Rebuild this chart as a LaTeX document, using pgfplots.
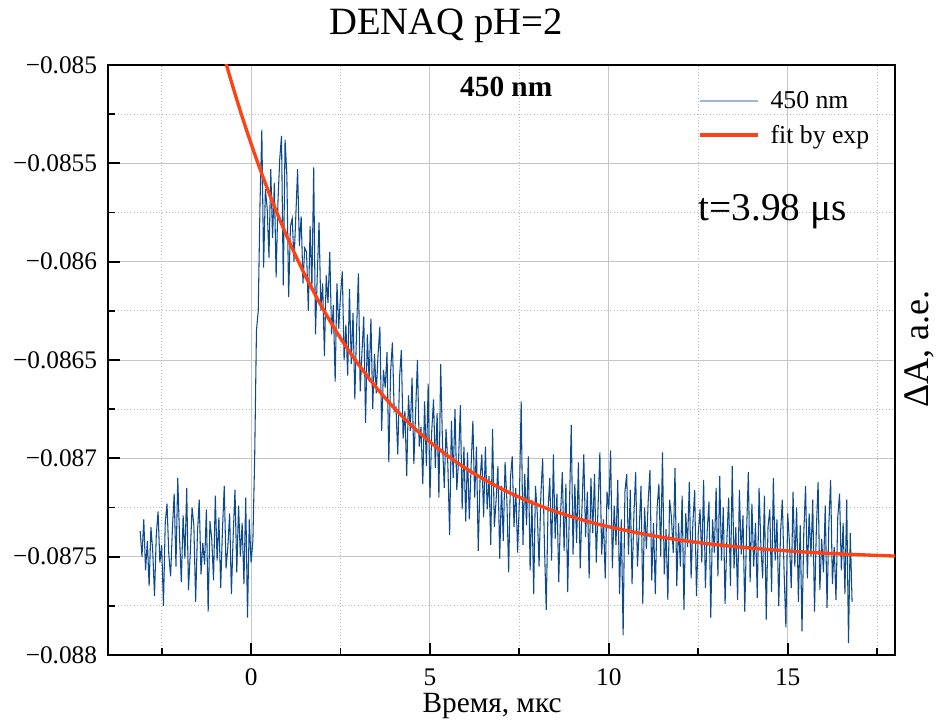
\documentclass[border=0pt]{standalone}
\usepackage{fontspec}
\setmainfont{Liberation Serif}
\newfontfamily\tickfont{Liberation Serif}
\usepackage{pgfplots}
\pgfplotsset{compat=1.18}
\definecolor{datablue}{RGB}{12,74,140}
\definecolor{fitred}{RGB}{255,66,20}
\definecolor{legblue}{RGB}{160,184,210}

\begin{document}
\begin{tikzpicture}
\begin{axis}[
  name=ax,
  scale only axis,
  width=590.25pt, height=442.5pt,
  xmin=-4, xmax=18, ymin=-0.088, ymax=-0.085,
  scaled y ticks=false, scaled x ticks=false,
  xtick={0,5,10,15}, xticklabels={0,5,10,15},
  minor xtick={-2.5,2.5,7.5,12.5,17.5},
  ytick={-0.088,-0.0875,-0.087,-0.0865,-0.086,-0.0855,-0.085},
  yticklabels={−0.088,−0.0875,−0.087,−0.0865,−0.086,−0.0855,−0.085},
  minor ytick={-0.08775,-0.08725,-0.08675,-0.08625,-0.08575,-0.08525},
  xtick pos=lower, ytick pos=left, tick align=inside,
  major tick length=9pt, minor tick length=5pt,
  tick style={black, line width=1.4pt},
  axis line style={line width=1.5pt},
  grid=both,
  major grid style={gray!45, line width=0.7pt},
  minor grid style={gray!55, dotted, line width=0.6pt},
  tick label style={font=\tickfont\fontsize{19}{23}\selectfont, inner sep=0pt},
  xticklabel shift=10pt, yticklabel shift=8pt,
  title={DENAQ pH=2},
  title style={at={(axis description cs:0.4295,1.0373)}, anchor=base, font=\fontsize{29}{34}\selectfont, inner sep=0pt},
  xlabel={Время, мкс},
  xlabel style={at={(axis description cs:0.488,-0.097)}, anchor=base, font=\fontsize{22}{26}\selectfont, inner sep=0pt},
  ylabel={ΔA, a.e.},
  ylabel style={at={(axis description cs:1.0425,0.519)}, anchor=base, font=\fontsize{27}{32}\selectfont, inner sep=0pt},
  legend style={at={(0.745,0.965)}, anchor=north west, draw=none, fill=none,
    font=\fontsize{19.3}{23}\selectfont, row sep=7pt,
    /tikz/every odd column/.append style={column sep=6pt}},
  legend cell align=left,
  legend image code/.code={\draw[#1] (0pt,0pt) -- (43.5pt,0pt);},
]
\addlegendimage{legblue, line width=1.2pt}
\addlegendentry{450 nm}
\addlegendimage{fitred, line width=2.5pt}
\addlegendentry{fit by exp}

% measured trace, 450 nm
\addplot[datablue, line width=0.8pt, forget plot] coordinates {
(-3.10,-0.08737) (-3.05,-0.08750) (-3.00,-0.08731) (-2.95,-0.08757) (-2.90,-0.08742) (-2.85,-0.08765) (-2.80,-0.08735) (-2.75,-0.08747) (-2.70,-0.08770) (-2.65,-0.08739)
(-2.60,-0.08727) (-2.55,-0.08753) (-2.50,-0.08744) (-2.45,-0.08775) (-2.40,-0.08733) (-2.35,-0.08723) (-2.30,-0.08749) (-2.25,-0.08760) (-2.20,-0.08736) (-2.15,-0.08718)
(-2.10,-0.08755) (-2.05,-0.08710) (-2.00,-0.08740) (-1.95,-0.08763) (-1.90,-0.08729) (-1.85,-0.08751) (-1.80,-0.08715) (-1.75,-0.08767) (-1.70,-0.08748) (-1.65,-0.08725)
(-1.60,-0.08734) (-1.55,-0.08773) (-1.50,-0.08738) (-1.45,-0.08721) (-1.40,-0.08759) (-1.35,-0.08743) (-1.30,-0.08754) (-1.25,-0.08726) (-1.20,-0.08778) (-1.15,-0.08732)
(-1.10,-0.08741) (-1.05,-0.08762) (-1.00,-0.08719) (-0.95,-0.08752) (-0.90,-0.08730) (-0.85,-0.08766) (-0.80,-0.08736) (-0.75,-0.08714) (-0.70,-0.08756) (-0.65,-0.08745)
(-0.60,-0.08728) (-0.55,-0.08769) (-0.50,-0.08739) (-0.45,-0.08716) (-0.40,-0.08758) (-0.35,-0.08724) (-0.30,-0.08750) (-0.25,-0.08733) (-0.20,-0.08764) (-0.15,-0.08720)
(-0.10,-0.08781) (-0.05,-0.08731) (0.00,-0.08753) (0.05,-0.08742)
(0.10,-0.08700) (0.15,-0.08635) (0.20,-0.08625) (0.25,-0.08570) (0.30,-0.08533) (0.35,-0.08603) (0.40,-0.08563) (0.45,-0.08573) (0.50,-0.08598) (0.55,-0.08553)
(0.60,-0.08588) (0.65,-0.08560) (0.70,-0.08608) (0.75,-0.08570) (0.80,-0.08548) (0.85,-0.08536) (0.90,-0.08612) (0.95,-0.08538) (1.00,-0.08556) (1.05,-0.08618)
(1.10,-0.08582) (1.15,-0.08578) (1.20,-0.08600) (1.25,-0.08577) (1.30,-0.08553) (1.35,-0.08592) (1.40,-0.08577) (1.45,-0.08611) (1.50,-0.08593)
(1.55,-0.08595) (1.60,-0.08625) (1.65,-0.08582) (1.70,-0.08613) (1.75,-0.08552) (1.80,-0.08637) (1.85,-0.08607) (1.90,-0.08580) (1.95,-0.08625) (2.00,-0.08611)
(2.05,-0.08648) (2.10,-0.08607) (2.15,-0.08621) (2.20,-0.08595) (2.25,-0.08637) (2.30,-0.08622) (2.35,-0.08661) (2.40,-0.08611) (2.45,-0.08634) (2.50,-0.08617)
(2.55,-0.08605) (2.60,-0.08650) (2.65,-0.08632) (2.70,-0.08658) (2.75,-0.08614) (2.80,-0.08652) (2.85,-0.08626) (2.90,-0.08670) (2.95,-0.08634) (3.00,-0.08606)
(3.05,-0.08666) (3.10,-0.08646) (3.15,-0.08628) (3.20,-0.08682) (3.25,-0.08637) (3.30,-0.08661) (3.35,-0.08629) (3.40,-0.08675) (3.45,-0.08647) (3.50,-0.08667)
(3.55,-0.08647) (3.60,-0.08633) (3.65,-0.08686) (3.70,-0.08655) (3.75,-0.08664) (3.80,-0.08646) (3.85,-0.08702) (3.90,-0.08656) (3.95,-0.08641) (4.00,-0.08676)
(4.05,-0.08674) (4.10,-0.08698) (4.15,-0.08659) (4.20,-0.08645) (4.25,-0.08690) (4.30,-0.08676) (4.35,-0.08709) (4.40,-0.08668) (4.45,-0.08686) (4.50,-0.08659)
(4.55,-0.08703) (4.60,-0.08676) (4.65,-0.08650) (4.70,-0.08694) (4.75,-0.08684) (4.80,-0.08713) (4.85,-0.08671) (4.90,-0.08704) (4.95,-0.08662) (5.00,-0.08720)
(5.05,-0.08686) (5.10,-0.08670) (5.15,-0.08705) (5.20,-0.08677) (5.25,-0.08720) (5.30,-0.08652) (5.35,-0.08692) (5.40,-0.08715) (5.45,-0.08685) (5.50,-0.08703)
(5.55,-0.08739) (5.60,-0.08681) (5.65,-0.08710) (5.70,-0.08675) (5.75,-0.08716) (5.80,-0.08701) (5.85,-0.08673) (5.90,-0.08726) (5.95,-0.08694) (6.00,-0.08732)
(6.05,-0.08697) (6.10,-0.08731) (6.15,-0.08704) (6.20,-0.08681) (6.25,-0.08720) (6.30,-0.08694) (6.35,-0.08747) (6.40,-0.08711) (6.45,-0.08698) (6.50,-0.08730)
(6.55,-0.08694) (6.60,-0.08726) (6.65,-0.08709) (6.70,-0.08744) (6.75,-0.08685) (6.80,-0.08735) (6.85,-0.08721) (6.90,-0.08704) (6.95,-0.08751) (7.00,-0.08714)
(7.05,-0.08742) (7.10,-0.08702) (7.15,-0.08721) (7.20,-0.08758) (7.25,-0.08710) (7.30,-0.08699) (7.35,-0.08735) (7.40,-0.08715) (7.45,-0.08748) (7.50,-0.08721)
(7.55,-0.08671) (7.60,-0.08744) (7.65,-0.08708) (7.70,-0.08734) (7.75,-0.08699) (7.80,-0.08757) (7.85,-0.08721) (7.90,-0.08769) (7.95,-0.08714) (8.00,-0.08728)
(8.05,-0.08755) (8.10,-0.08719) (8.15,-0.08700) (8.20,-0.08744) (8.25,-0.08777) (8.30,-0.08726) (8.35,-0.08710) (8.40,-0.08752) (8.45,-0.08698) (8.50,-0.08741)
(8.55,-0.08718) (8.60,-0.08763) (8.65,-0.08729) (8.70,-0.08707) (8.75,-0.08747) (8.80,-0.08713) (8.85,-0.08768) (8.90,-0.08724) (8.95,-0.08683) (9.00,-0.08749)
(9.05,-0.08713) (9.10,-0.08743) (9.15,-0.08702) (9.20,-0.08756) (9.25,-0.08725) (9.30,-0.08698) (9.35,-0.08740) (9.40,-0.08717) (9.45,-0.08761) (9.50,-0.08710)
(9.55,-0.08738) (9.60,-0.08708) (9.65,-0.08753) (9.70,-0.08724) (9.75,-0.08697) (9.80,-0.08749) (9.85,-0.08731) (9.90,-0.08761) (9.95,-0.08717) (10.00,-0.08726)
(10.05,-0.08696) (10.10,-0.08756) (10.15,-0.08724) (10.20,-0.08744) (10.25,-0.08711) (10.30,-0.08769) (10.35,-0.08731) (10.40,-0.08790) (10.45,-0.08717) (10.50,-0.08708)
(10.55,-0.08749) (10.60,-0.08716) (10.65,-0.08764) (10.70,-0.08729) (10.75,-0.08707) (10.80,-0.08755) (10.85,-0.08736) (10.90,-0.08714) (10.95,-0.08774) (11.00,-0.08725)
(11.05,-0.08746) (11.10,-0.08722) (11.15,-0.08706) (11.20,-0.08762) (11.25,-0.08733) (11.30,-0.08769) (11.35,-0.08725) (11.40,-0.08713) (11.45,-0.08750) (11.50,-0.08697)
(11.55,-0.08759) (11.60,-0.08736) (11.65,-0.08772) (11.70,-0.08721) (11.75,-0.08730) (11.80,-0.08748) (11.85,-0.08705) (11.90,-0.08765) (11.95,-0.08733) (12.00,-0.08755)
(12.05,-0.08719) (12.10,-0.08777) (12.15,-0.08728) (12.20,-0.08745) (12.25,-0.08712) (12.30,-0.08761) (12.35,-0.08733) (12.40,-0.08716) (12.45,-0.08770) (12.50,-0.08738)
(12.55,-0.08726) (12.60,-0.08753) (12.65,-0.08711) (12.70,-0.08766) (12.75,-0.08737) (12.80,-0.08722) (12.85,-0.08781) (12.90,-0.08731) (12.95,-0.08748) (13.00,-0.08715)
(13.05,-0.08760) (13.10,-0.08709) (13.15,-0.08752) (13.20,-0.08725) (13.25,-0.08774) (13.30,-0.08741) (13.35,-0.08720) (13.40,-0.08765) (13.45,-0.08704) (13.50,-0.08756)
(13.55,-0.08735) (13.60,-0.08772) (13.65,-0.08716) (13.70,-0.08749) (13.75,-0.08729) (13.80,-0.08778) (13.85,-0.08738) (13.90,-0.08707) (13.95,-0.08763) (14.00,-0.08723)
(14.05,-0.08755) (14.10,-0.08733) (14.15,-0.08771) (14.20,-0.08715) (14.25,-0.08744) (14.30,-0.08761) (14.35,-0.08719) (14.40,-0.08782) (14.45,-0.08735) (14.50,-0.08726)
(14.55,-0.08768) (14.60,-0.08710) (14.65,-0.08752) (14.70,-0.08731) (14.75,-0.08775) (14.80,-0.08738) (14.85,-0.08721) (14.90,-0.08758) (14.95,-0.08786) (15.00,-0.08728)
(15.05,-0.08743) (15.10,-0.08766) (15.15,-0.08717) (15.20,-0.08755) (15.25,-0.08725) (15.30,-0.08773) (15.35,-0.08734) (15.40,-0.08788) (15.45,-0.08738) (15.50,-0.08714)
(15.55,-0.08761) (15.60,-0.08728) (15.65,-0.08750) (15.70,-0.08721) (15.75,-0.08778) (15.80,-0.08737) (15.85,-0.08712) (15.90,-0.08767) (15.95,-0.08741) (16.00,-0.08758)
(16.05,-0.08724) (16.10,-0.08776) (16.15,-0.08734) (16.20,-0.08711) (16.25,-0.08764) (16.30,-0.08745) (16.35,-0.08772) (16.40,-0.08730) (16.45,-0.08718) (16.50,-0.08757)
(16.55,-0.08733) (16.60,-0.08769) (16.65,-0.08721) (16.70,-0.08794) (16.75,-0.08738) (16.80,-0.08773)
};

% exponential fit, tau = 3.98 us
\addplot[fitred, line width=2.5pt, smooth, forget plot] coordinates {
(-0.70,-0.084992) (-0.50,-0.085116) (-0.25,-0.085263) (0,-0.085400) (0.25,-0.085529)
(0.5,-0.085650) (0.75,-0.085764) (1,-0.085871) (1.25,-0.085971) (1.5,-0.086066)
(1.75,-0.086154) (2,-0.086237) (2.25,-0.086315) (2.5,-0.086389) (2.75,-0.086458)
(3,-0.086522) (3.5,-0.086640) (4,-0.086744) (4.5,-0.086836) (5,-0.086916)
(5.5,-0.086988) (6,-0.087051) (6.5,-0.087106) (7,-0.087155) (7.5,-0.087198)
(8,-0.087236) (8.5,-0.087270) (9,-0.087299) (9.5,-0.087325) (10,-0.087348)
(11,-0.087386) (12,-0.087416) (13,-0.087439) (14,-0.087457) (15,-0.087471)
(16,-0.087482) (17,-0.087490) (18,-0.087497)
};

\node[font=\bfseries\fontsize{22}{26}\selectfont, anchor=base, inner sep=0pt] at (rel axis cs:0.506,0.947) {450 nm};
\node[font=\fontsize{29.5}{34}\selectfont, anchor=base west, inner sep=0pt] at (rel axis cs:0.750,0.7356) {t=3.98 μs};
\end{axis}
\pgfresetboundingbox
\path ([shift={(-81pt,-48.75pt)}]ax.south west) rectangle ([shift={(30.75pt,48.75pt)}]ax.north east);
\end{tikzpicture}
\end{document}
